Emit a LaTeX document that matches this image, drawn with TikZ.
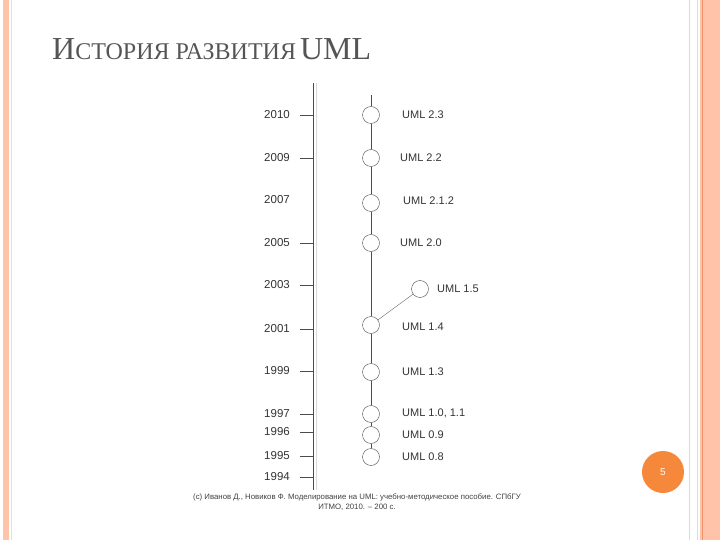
\documentclass[tikz,border=0pt]{standalone}
\usepackage{fontspec}
\setmainfont{Liberation Serif}
\setsansfont{Liberation Sans}
\usetikzlibrary{positioning}
\definecolor{salmon}{HTML}{FFC3AA}
\definecolor{rust}{HTML}{F0916A}
\definecolor{pagedot}{HTML}{F5883A}
\definecolor{titlegrey}{HTML}{555555}
\tikzset{
  ver/.style={circle,draw=black!70,fill=white,minimum size=17pt,inner sep=0pt},
  verlabel/.style={font=\sffamily\fontsize{11}{13}\selectfont,anchor=west,inner sep=0pt,text=black!80},
  yearlabel/.style={font=\sffamily\fontsize{11.5}{13}\selectfont,anchor=east,inner sep=0pt,text=black!80},
}
\begin{document}
\begin{tikzpicture}[x=1pt,y=-1pt]
  \useasboundingbox (0,0) rectangle (720,540);
  \fill[salmon] (3,0) rectangle (9,540);
  \draw[salmon!70,line width=0.6pt] (11,0) -- (11,540);
  \draw[salmon!80,line width=1pt] (689,0) -- (689,540);
  \draw[salmon!80,line width=1pt] (697,0) -- (697,540);
  \fill[salmon] (700,0) rectangle (720,540);
  \draw[rust,line width=0.8pt] (702.5,0) -- (702.5,540);

  \node[anchor=base west,inner sep=0pt,text=titlegrey] (title) at (52,60)
    {\fontsize{32}{36}\selectfont И\fontsize{24}{28}\selectfont СТОРИЯ РАЗВИТИЯ\,\fontsize{32}{36}\selectfont UML};

  \coordinate (axtop) at (313,83);
  \coordinate (axbot) at (313,490);
  \draw[black!70,line width=0.7pt] (axtop) -- (axbot);
  \draw[black!15,line width=0.6pt] (316,83) -- (316,490);

  \foreach \yr/\y in {2010/115,2009/158,2007/200,2005/243,2003/285,2001/329,1999/371,1997/414,1996/432,1995/456,1994/477}
    \node[yearlabel] (y\yr) at (290,\y) {\yr};
  \foreach \yr in {2010,2009,2005,2003,2001,1999,1997,1996,1995,1994}
    \draw[black!70,line width=0.6pt] ([xshift=10pt]y\yr.east) -- ++(13,0);

  \coordinate (vtop) at (371,95);
  \node[ver] (v23) at (371,115) {};
  \node[ver] (v22) at (371,158) {};
  \node[ver] (v212) at (371,203) {};
  \node[ver] (v20) at (371,243) {};
  \node[ver] (v14) at (371,325) {};
  \node[ver] (v13) at (371,372) {};
  \node[ver] (v10) at (371,414) {};
  \node[ver] (v09) at (371,435) {};
  \node[ver] (v08) at (371,457) {};
  \node[ver] (v15) at (420,289) {};

  \draw[black!70,line width=0.7pt] (vtop) -- (v23) -- (v22) -- (v212) -- (v20) -- (v14) -- (v13) -- (v10) -- (v09) -- (v08);
  \draw[black!60,line width=0.4pt] (v14) -- (v15);

  \node[verlabel] (l23) at (402,115) {UML 2.3};
  \node[verlabel] (l22) at (400,158) {UML 2.2};
  \node[verlabel] (l212) at (403,201) {UML 2.1.2};
  \node[verlabel] (l20) at (400,243) {UML 2.0};
  \node[verlabel] (l15) at (437,289) {UML 1.5};
  \node[verlabel] (l14) at (402,327) {UML 1.4};
  \node[verlabel] (l13) at (402,372) {UML 1.3};
  \node[verlabel] (l10) at (402,413) {UML 1.0, 1.1};
  \node[verlabel] (l09) at (402,435) {UML 0.9};
  \node[verlabel] (l08) at (402,457) {UML 0.8};

  \node[font=\sffamily\fontsize{7.8}{10.5}\selectfont,align=center,text=black!75,inner sep=0pt] (src) at (357,502)
    {(c) Иванов Д., Новиков Ф. Моделирование на UML: учебно-методическое пособие. СПбГУ\\ИТМО, 2010. -- 200 с.};

  \node[circle,fill=pagedot,minimum size=42pt,inner sep=0pt,text=white,font=\sffamily\fontsize{10}{12}\selectfont] (page) at (663,472) {5};
\end{tikzpicture}
\end{document}
